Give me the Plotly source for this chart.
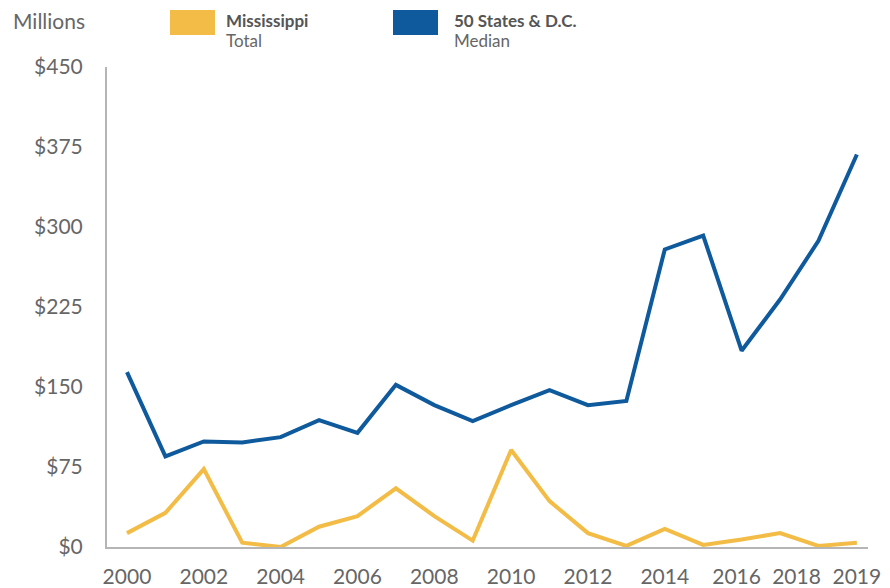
import plotly.graph_objects as go

years = list(range(2000, 2020))
mississippi_total = [13, 32, 73, 4, 0, 19, 29, 55, 29, 6, 91, 43, 13, 1, 17, 2, 7, 13, 1, 4]
states_median = [164, 85, 99, 98, 103, 119, 107, 152, 133, 118, 133, 147, 133, 137, 279, 292, 184, 232, 287, 368]
x_tick_labels = ["2000", "2002", "2004", "2006", "2008", "2010", "2012", "2014", "2016", "2018", "2019"]
y_tick_vals = [0, 75, 150, 225, 300, 375, 450]
y_tick_text = ["$0", "$75", "$150", "$225", "$300", "$375", "$450"]

# label positions (2016/2018 labels nudged left as in the original to avoid crowding)
x_tick_pos = [2000, 2002, 2004, 2006, 2008, 2010, 2012, 2014, 2015.87, 2017.43, 2019]

YELLOW = "#F2BC46"
BLUE = "#0F5A9C"
GRAY = "#666666"
FONT = "Lato, sans-serif"

L, R, T, B = 107, 22, 67, 41
W, H = 890, 588
pw, ph = W - L - R, H - T - B

def px(x):
    return (x - L) / pw

def py(y):
    return (H - B - y) / ph

fig = go.Figure()
fig.add_trace(go.Scatter(x=years, y=states_median, mode="lines",
                         line=dict(color=BLUE, width=4), name="50 States & D.C.",
                         hoverinfo="x+y"))
fig.add_trace(go.Scatter(x=years, y=mississippi_total, mode="lines",
                         line=dict(color=YELLOW, width=4), name="Mississippi",
                         hoverinfo="x+y"))

shapes = [
    dict(type="rect", xref="paper", yref="paper", x0=px(170), x1=px(215), y0=py(35), y1=py(10),
         fillcolor=YELLOW, line=dict(width=0)),
    dict(type="rect", xref="paper", yref="paper", x0=px(393), x1=px(438), y0=py(35), y1=py(10),
         fillcolor=BLUE, line=dict(width=0)),
]
annotations = [
    dict(text="Millions", x=px(11), y=py(20), xref="paper", yref="paper", xanchor="left",
         yanchor="middle", showarrow=False, font=dict(size=21, color=GRAY, family=FONT)),
    dict(text="<b>Mississippi</b>", x=px(224), y=py(20), xref="paper", yref="paper", xanchor="left",
         yanchor="middle", showarrow=False, font=dict(size=17, color="#555555", family=FONT)),
    dict(text="Total", x=px(224), y=py(40), xref="paper", yref="paper", xanchor="left",
         yanchor="middle", showarrow=False, font=dict(size=17, color=GRAY, family=FONT)),
    dict(text="<b>50 States & D.C.</b>", x=px(452), y=py(20), xref="paper", yref="paper", xanchor="left",
         yanchor="middle", showarrow=False, font=dict(size=17, color="#555555", family=FONT)),
    dict(text="Median", x=px(452), y=py(40), xref="paper", yref="paper", xanchor="left",
         yanchor="middle", showarrow=False, font=dict(size=17, color=GRAY, family=FONT)),
]

fig.update_layout(
    width=W, height=H,
    margin=dict(l=L, r=R, t=T, b=B, pad=0, autoexpand=False),
    paper_bgcolor="white", plot_bgcolor="white",
    showlegend=False,
    shapes=shapes, annotations=annotations,
    font=dict(family=FONT, color=GRAY, size=21),
    xaxis=dict(range=[1999.48, 2019.29], tickvals=x_tick_pos, ticktext=x_tick_labels,
               showgrid=False, zeroline=False, showline=True, linecolor="#B5B5B5", linewidth=2,
               ticks="", ticklabelstandoff=10, tickangle=0, automargin=False,
               tickfont=dict(size=21, color=GRAY)),
    yaxis=dict(range=[0, 450], tickvals=y_tick_vals, ticktext=y_tick_text,
               showgrid=False, zeroline=False, showline=True, linecolor="#B5B5B5", linewidth=2,
               ticks="", ticklabelstandoff=18, automargin=False,
               tickfont=dict(size=21, color=GRAY)),
)

fig.write_html("out.html", config={"displayModeBar": False},
               post_script="document.body.style.margin='0px';")
